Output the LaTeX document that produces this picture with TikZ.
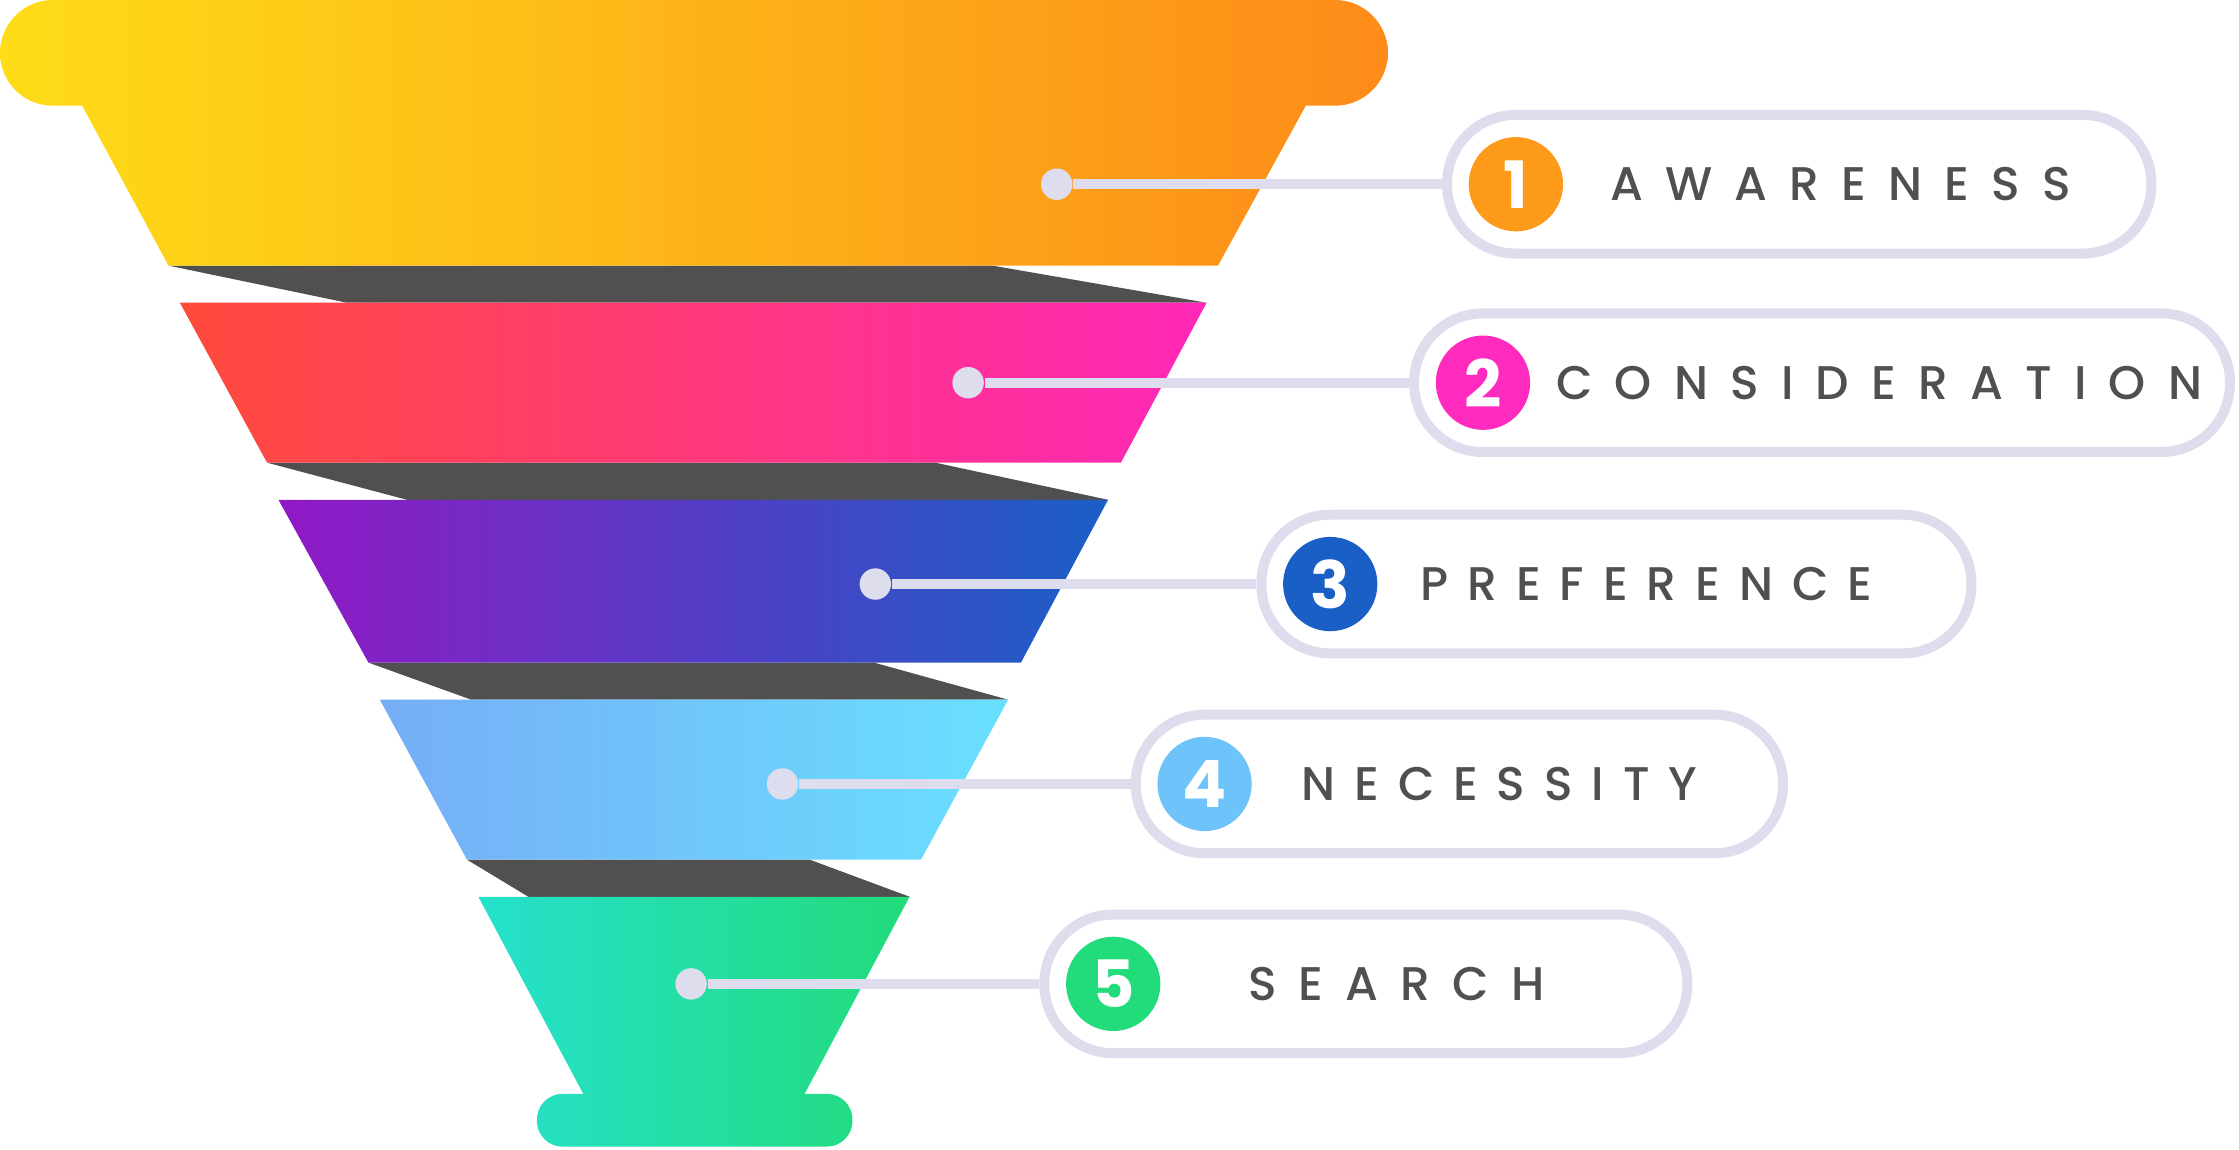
\documentclass[tikz,border=0pt]{standalone}
\usepackage{fontspec}
\setmainfont{Poppins}
\newfontfamily\labelfont[LetterSpace=47, UprightFont=* Medium]{Poppins}
\newfontfamily\labeltight[LetterSpace=40, UprightFont=* Medium]{Poppins}
\newfontfamily\numfont{Poppins}
\definecolor{Lavender}{RGB}{221, 221, 238}
\definecolor{Charcoal}{RGB}{80, 80, 80}
\definecolor{SunYellow}{RGB}{254, 220, 23}
\definecolor{SunOrange}{RGB}{253, 139, 25}
\definecolor{Coral}{RGB}{255, 74, 59}
\definecolor{HotPink}{RGB}{255, 40, 185}
\definecolor{Violet}{RGB}{145, 25, 197}
\definecolor{Royal}{RGB}{26, 95, 198}
\definecolor{SkyBlue}{RGB}{118, 173, 246}
\definecolor{Aqua}{RGB}{105, 224, 255}
\definecolor{Turquoise}{RGB}{37, 225, 205}
\definecolor{Mint}{RGB}{34, 219, 122}
\definecolor{BadgeOrange}{RGB}{254, 154, 25}
\definecolor{BadgePink}{RGB}{255, 43, 190}
\definecolor{BadgeSky}{RGB}{110, 196, 250}
\usepackage{tikz}
\usetikzlibrary{positioning, calc}

\begin{document}
\begin{tikzpicture}[x=0.01cm, y=-0.01cm, every node/.style={font=\labelfont\fontsize{9.4}{11}\selectfont, text=Charcoal},
    stagebox/.style={draw=Lavender, line width=0.07cm, rounded corners=0.48cm, minimum height=0.97cm, inner sep=0pt},
    badge/.style={circle, minimum size=0.66cm, inner sep=0pt, text=white, font=\numfont\bfseries\fontsize{13}{13}\selectfont},
    knob/.style={circle, fill=Lavender, minimum size=0.22cm, inner sep=0pt},
    leader/.style={draw=Lavender, line width=0.07cm},
    tight/.style={font=\labeltight\fontsize{9.4}{11}\selectfont}]
    \useasboundingbox (0,0) rectangle (1568,805);

    \fill[Charcoal] (118,186) -- (695,186) -- (845,212) -- (243,212) -- cycle;
    \fill[Charcoal] (187,324) -- (655,324) -- (776,350) -- (285,350) -- cycle;
    \fill[Charcoal] (258,464) -- (612,464) -- (706,490) -- (330,490) -- cycle;
    \fill[Charcoal] (327,602) -- (567,602) -- (637,628) -- (370,628) -- cycle;

    \begin{scope}
        \clip[rounded corners=0.37cm] (0,0) rectangle (972,74);
        \shade[left color=SunYellow, right color=SunOrange] (0,0) rectangle (972,186);
    \end{scope}
    \begin{scope}
        \clip (57,73) -- (915,73) -- (853,186) -- (118,186) -- cycle;
        \shade[left color=SunYellow, right color=SunOrange] (0,0) rectangle (972,186);
    \end{scope}
    \shade[left color=Coral, right color=HotPink] (126,212) -- (845,212) -- (785,324) -- (187,324) -- cycle;
    \shade[left color=Violet, right color=Royal] (195,350) -- (776,350) -- (715,464) -- (258,464) -- cycle;
    \shade[left color=SkyBlue, right color=Aqua] (266,490) -- (706,490) -- (645,602) -- (327,602) -- cycle;
    \begin{scope}
        \clip (335,628) -- (637,628) -- (563,767) -- (409,767) -- cycle;
        \shade[left color=Turquoise, right color=Mint] (335,628) rectangle (637,803);
    \end{scope}
    \begin{scope}
        \clip[rounded corners=0.18cm] (376,766) rectangle (597,803);
        \shade[left color=Turquoise, right color=Mint] (335,628) rectangle (637,803);
    \end{scope}

    \node[stagebox, minimum width=4.93cm] (aw) at (1260,129) {};
    \node[badge, fill=BadgeOrange, right=0.18cm of aw.west] (aw-n) {1};
    \node (aw-t) at (1289,129) {AWARENESS};
    \node[knob] (aw-k) at (740,129) {};
    \draw[leader] (aw-k) -- (aw);

    \node[stagebox, minimum width=5.71cm] (cons) at (1276,268) {};
    \node[badge, fill=BadgePink, right=0.18cm of cons.west] (cons-n) {2};
    \node (cons-t) at (1316,268) {CONSIDERATION};
    \node[knob] (cons-k) at (678,268) {};
    \draw[leader] (cons-k) -- (cons);

    \node[stagebox, minimum width=4.97cm] (pref) at (1132,409) {};
    \node[badge, fill=Royal, right=0.18cm of pref.west] (pref-n) {3};
    \node[tight] (pref-t) at (1153,409) {PREFERENCE};
    \node[knob] (pref-k) at (613,409) {};
    \draw[leader] (pref-k) -- (pref);

    \node[stagebox, minimum width=4.53cm] (nec) at (1022,549) {};
    \node[badge, fill=BadgeSky, right=0.18cm of nec.west] (nec-n) {4};
    \node[tight] (nec-t) at (1050,549) {NECESSITY};
    \node[knob] (nec-k) at (548,549) {};
    \draw[leader] (nec-k) -- (nec);

    \node[stagebox, minimum width=4.50cm] (srch) at (956.5,689) {};
    \node[badge, fill=Mint, right=0.18cm of srch.west] (srch-n) {5};
    \node (srch-t) at (978,689) {SEARCH};
    \node[knob] (srch-k) at (484,689) {};
    \draw[leader] (srch-k) -- (srch);
\end{tikzpicture}
\end{document}
